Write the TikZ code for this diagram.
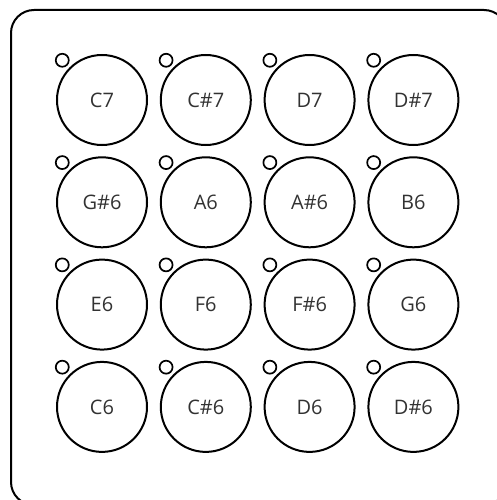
\documentclass[tikz,border=0pt]{standalone}
\usepackage{fontspec}
\setmainfont{Open Sans}
\usetikzlibrary{positioning}
\definecolor{padtext}{RGB}{50,50,50}
\tikzset{pad/.style={circle,draw,line width=2pt,minimum size=90pt,inner sep=0pt,
  font=\fontsize{20}{20}\selectfont,text=padtext},
 led/.style={circle,draw,line width=1.7pt,minimum size=13pt,inner sep=0pt},
 case/.style={line width=2pt,rounded corners=23pt}}

\begin{document}
\begin{tikzpicture}[x=1pt,y=-1pt]
\useasboundingbox (0,0) rectangle (497,500);
\clip (0,0) rectangle (497,500);
\draw[case] (11,10) rectangle (507,505);
\foreach \row/\notes in {0/{C7,C\#7,D7,D\#7},1/{G\#6,A6,A\#6,B6},
  2/{E6,F6,F\#6,G6},3/{C6,C\#6,D6,D\#6}}
  \foreach \note [count=\col from 0] in \notes {
    \node[pad] (pad-\row-\col) at ({102+103.8*\col},{100+102.3*\row}) {\note};
    \node[led,above left=2pt and 2pt of pad-\row-\col] (led-\row-\col) {};
  }
\end{tikzpicture}
\end{document}
